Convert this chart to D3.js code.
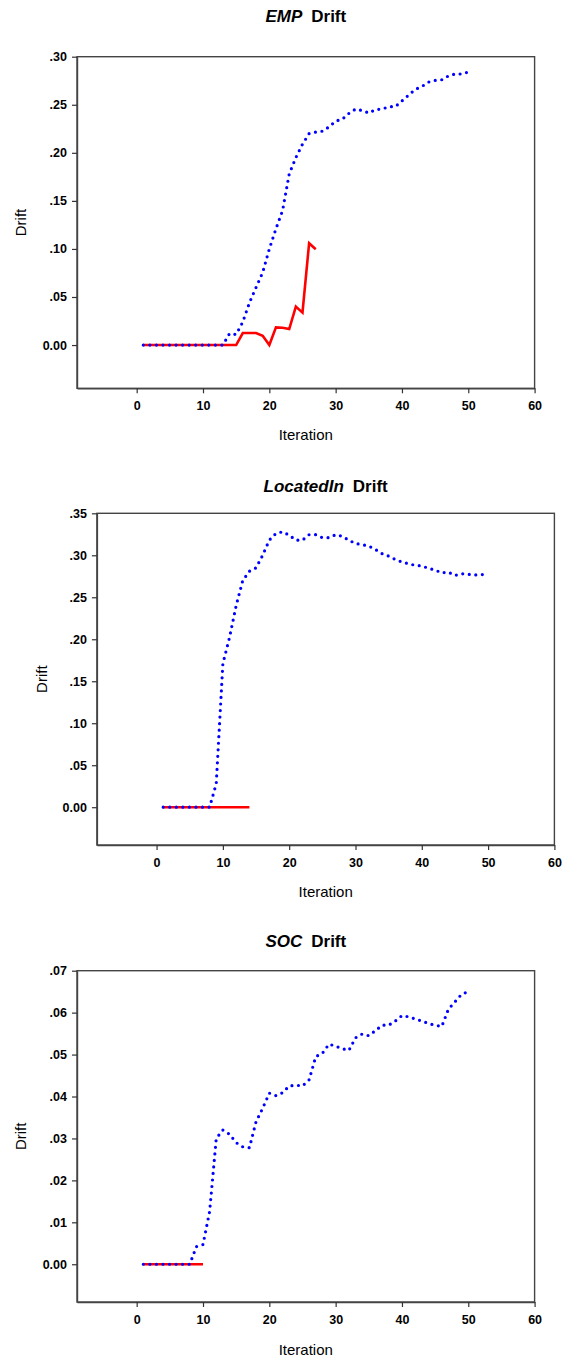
<!DOCTYPE html>
<html><head><meta charset="utf-8">
<script src="https://cdn.jsdelivr.net/npm/d3@7"></script>
<style>
html,body{margin:0;padding:0;background:#fff;}
svg{display:block;}
text{font-family:"Liberation Sans",Arial,Helvetica,sans-serif;}
</style></head>
<body>
<script>
// ---------- DATA ----------
const iterations = [1,2,3,4,5,6,7,8,9,10,11,12,13,14,15,16,17,18,19,20,21,22,23,24,25,26,27,28,29,30,31,32,33,34,35,36,37,38,39,40,41,42,43,44,45,46,47,48,49,50];

const empBlue = [0,0,0,0,0,0,0,0,0,0,0,0,0,0.012,0.011,0.024,0.044,0.060,0.0755,0.100,0.121,0.140,0.178,0.195,0.209,0.220,0.2215,0.2225,0.227,0.233,0.235,0.241,0.2455,0.244,0.2414,0.245,0.2455,0.248,0.248,0.254,0.260,0.266,0.269,0.2736,0.2753,0.276,0.280,0.282,0.282,0.284];
const empRed = [0,0,0,0,0,0,0,0,0,0,0,0,0,0,0,0.0125,0.0125,0.0125,0.0097,0,0.0184,0.018,0.0167,0.040,0.0337,0.106,0.0997];

const locBlue = [0,0,0,0,0,0,0,0,0.028,0.171,0.202,0.240,0.270,0.281,0.285,0.300,0.318,0.326,0.328,0.324,0.318,0.318,0.3245,0.3245,0.321,0.321,0.3245,0.3226,0.318,0.314,0.3127,0.311,0.307,0.302,0.299,0.295,0.292,0.290,0.288,0.2873,0.2845,0.2825,0.279,0.280,0.276,0.278,0.2773,0.2765,0.277,0.277];
const locRed = [0,0,0,0,0,0,0,0,0,0,0,0,0,0];

const socBlue = [0,0,0,0,0,0,0,0,0.0042,0.0047,0.0126,0.0300,0.0320,0.0310,0.0290,0.0280,0.0278,0.0340,0.0372,0.0408,0.0402,0.0409,0.0425,0.0427,0.0425,0.0440,0.0495,0.0503,0.0525,0.0520,0.0514,0.0510,0.0540,0.0549,0.0545,0.0557,0.0570,0.0570,0.0580,0.0593,0.0590,0.0585,0.0580,0.0574,0.0570,0.0567,0.0608,0.0626,0.0644,0.0650];
const socRed = [0,0,0,0,0,0,0,0,0,0];

const xTicks = [0,10,20,30,40,50,60];
const xTickLabels = ["0","10","20","30","40","50","60"];
const empYTicks = [0,0.05,0.10,0.15,0.20,0.25,0.30];
const empYLabels = ["0.00",".05",".10",".15",".20",".25",".30"];
const locYTicks = [0,0.05,0.10,0.15,0.20,0.25,0.30,0.35];
const locYLabels = ["0.00",".05",".10",".15",".20",".25",".30",".35"];
const socYTicks = [0,0.01,0.02,0.03,0.04,0.05,0.06,0.07];
const socYLabels = ["0.00",".01",".02",".03",".04",".05",".06",".07"];

const titleNames = ["EMP","LocatedIn","SOC"];
const titleSuffix = "Drift";
const xTitle = "Iteration";
const yTitle = "Drift";

// ---------- LAYOUT ----------
const W = 567, H = 1357;
const charts = [
  {name:titleNames[0], blue:empBlue, red:empRed, yDom:[-0.045,0.30], yTicks:empYTicks, yLabels:empYLabels,
   left:77, right:534.6, top:56.7, bottom:388.3, titleY:22, xTitleY:440, yTitleX:26},
  {name:titleNames[1], blue:locBlue, red:locRed, yDom:[-0.045,0.35], yTicks:locYTicks, yLabels:locYLabels,
   left:96.9, right:554.4, top:513.3, bottom:845, titleY:491.7, xTitleY:897, yTitleX:47},
  {name:titleNames[2], blue:socBlue, red:socRed, yDom:[-0.009,0.07], yTicks:socYTicks, yLabels:socYLabels,
   left:77, right:534.6, top:970.7, bottom:1302, titleY:947.3, xTitleY:1354.5, yTitleX:26}
];

const svg = d3.select("body").append("svg").attr("width",W).attr("height",H);

charts.forEach(c => {
  const x = d3.scaleLinear().domain([-9,60]).range([c.left,c.right]);
  const y = d3.scaleLinear().domain(c.yDom).range([c.bottom,c.top]);
  const g = svg.append("g");

  // frame
  g.append("rect").attr("x",c.left).attr("y",c.top)
    .attr("width",c.right-c.left).attr("height",c.bottom-c.top)
    .attr("fill","none").attr("stroke","#444").attr("stroke-width",1.4);

  // axes
  const xa = g.append("g").attr("transform",`translate(0,${c.bottom})`)
    .call(d3.axisBottom(x).tickValues(xTicks).tickFormat((d,i)=>xTickLabels[i]).tickSize(5).tickSizeOuter(0).tickPadding(8));
  const ya = g.append("g").attr("transform",`translate(${c.left},0)`)
    .call(d3.axisLeft(y).tickValues(c.yTicks).tickFormat((d,i)=>c.yLabels[i]).tickSize(5).tickSizeOuter(0).tickPadding(5));
  [xa,ya].forEach(a=>{
    a.select(".domain").attr("stroke","#444").attr("stroke-width",1.4);
    a.selectAll(".tick line").attr("stroke","#333").attr("stroke-width",1.2);
    a.selectAll(".tick text").attr("font-size",12.5).attr("font-weight","bold").attr("fill","#000")
      .attr("font-family",'"Liberation Sans",Arial,sans-serif');
  });

  // red line
  const lineLin = d3.line().x((d,i)=>x(iterations[i])).y(d=>y(d));
  g.append("path").datum(c.red).attr("d",lineLin)
    .attr("fill","none").attr("stroke","#ff0000").attr("stroke-width",2.6).attr("stroke-linejoin","miter");

  // blue dotted line
  g.append("path").datum(c.blue).attr("d",lineLin)
    .attr("fill","none").attr("stroke","#0000ff").attr("stroke-width",3.2)
    .attr("stroke-linecap","round").attr("stroke-linejoin","round").attr("stroke-dasharray","0 6.55");

  // title
  const t = g.append("text").attr("x",(c.left+c.right)/2).attr("y",c.titleY)
    .attr("text-anchor","middle").attr("font-size",17).attr("font-weight","bold");
  t.append("tspan").attr("font-style","italic").text(c.name);
  t.append("tspan").attr("dx",9).text(titleSuffix);

  // axis titles
  g.append("text").attr("x",(c.left+c.right)/2).attr("y",c.xTitleY)
    .attr("text-anchor","middle").attr("font-size",15).text(xTitle);
  g.append("text").attr("transform",`translate(${c.yTitleX},${(c.top+c.bottom)/2}) rotate(-90)`)
    .attr("text-anchor","middle").attr("font-size",15).text(yTitle);
});
</script>
</body></html>
